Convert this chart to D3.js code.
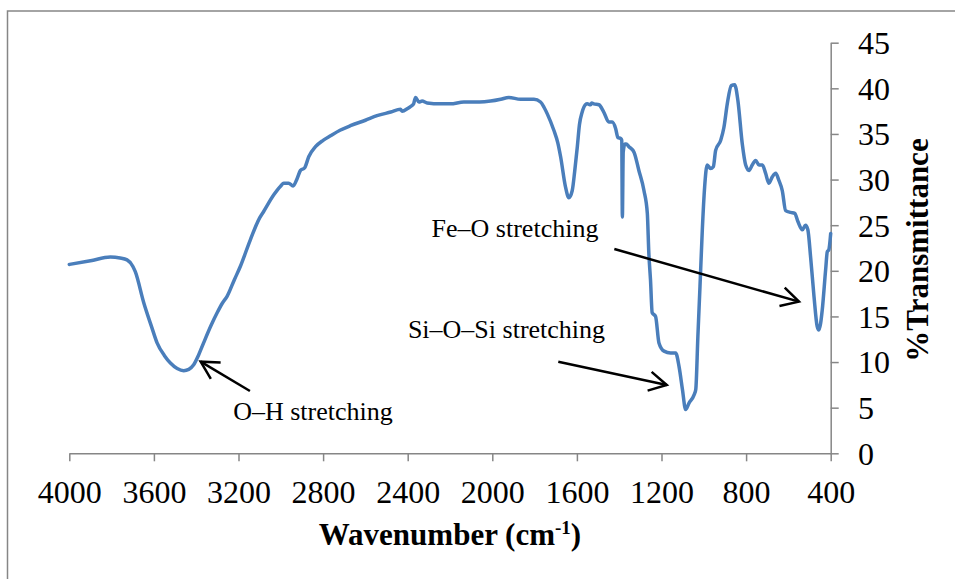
<!DOCTYPE html>
<html>
<head>
<meta charset="utf-8">
<script src="https://cdn.jsdelivr.net/npm/d3@7"></script>
<style>
  body { margin: 0; background: #fff; }
  svg { display: block; }
  text { font-family: "Liberation Serif", "Times New Roman", serif; fill: #000; }
</style>
</head>
<body>
<svg id="chart" width="955" height="579"></svg>
<script>
// FTIR spectrum: wavenumber (cm-1) and % transmittance
const wavenumber = [
  4000, 3900, 3806, 3760, 3727, 3700, 3688, 3648, 3610, 3585, 3550, 3522, 3490, 3459, 3435, 3412,
  3390, 3365, 3330, 3301, 3275, 3254, 3220, 3191, 3144, 3100, 3081, 3034, 3000, 2986, 2963, 2942,
  2923, 2907, 2887, 2868, 2836, 2800, 2765, 2720, 2671, 2600, 2545, 2480, 2434, 2426, 2400, 2387,
  2372, 2363, 2347, 2332, 2308, 2245, 2198, 2135, 2060, 2008, 1960, 1922, 1866, 1803, 1772, 1755,
  1740, 1709, 1690, 1677, 1654, 1638, 1622, 1610, 1598, 1588, 1575, 1560, 1551, 1535, 1530, 1520,
  1496, 1473, 1449, 1433, 1417, 1406, 1393, 1388, 1385, 1381, 1373, 1367, 1354, 1330, 1307, 1283,
  1267, 1260, 1252, 1244, 1228, 1212, 1188, 1157, 1133, 1117, 1101, 1086, 1070, 1046, 1038, 1028,
  1018, 1007, 996, 984, 968, 955, 944, 920, 905, 889, 870, 854, 839, 818, 802, 786,
  771, 755, 739, 723, 708, 692, 676, 660, 645, 629, 613, 589, 570, 555, 534, 519,
  508, 495, 479, 464, 456, 448, 440, 424, 416, 409, 400
];
const transmittance = [
  20.7, 21.1, 21.5, 21.4, 21.2, 20.5, 19.9, 16.5, 13.8, 12.1, 10.7, 9.9, 9.3, 9.06, 9.2, 9.7,
  10.7, 12.1, 14.0, 15.4, 16.5, 17.2, 19.0, 20.5, 23.4, 25.8, 26.5, 28.3, 29.3, 29.6, 29.6, 29.3,
  30.1, 31.0, 31.3, 32.5, 33.6, 34.3, 34.8, 35.4, 35.9, 36.5, 37.0, 37.4, 37.7, 37.5, 37.8, 38.0,
  38.3, 39.0, 38.5, 38.6, 38.4, 38.3, 38.3, 38.5, 38.5, 38.6, 38.8, 39.0, 38.8, 38.8, 38.5, 37.9,
  37.2, 35.4, 34.0, 32.5, 29.2, 28.0, 28.8, 31.0, 33.6, 36.0, 37.4, 38.2, 38.3, 38.2, 38.4, 38.3,
  38.2, 37.4, 36.3, 36.3, 35.6, 34.6, 34.5, 34.3, 25.9, 33.0, 33.9, 33.9, 33.6, 33.0, 31.0, 28.8,
  26.3, 22.0, 19.0, 15.4, 15.0, 12.1, 11.2, 11.0, 11.0, 9.5, 7.0, 4.8, 5.5, 6.4, 7.0, 12.8,
  18.3, 24.5, 29.2, 31.6, 31.2, 31.4, 33.2, 34.3, 35.7, 38.3, 40.3, 40.4, 38.7, 33.9, 31.6, 31.0,
  31.6, 32.1, 31.6, 31.6, 30.7, 29.6, 30.3, 30.7, 29.9, 28.8, 26.6, 26.4, 26.3, 25.4, 24.5, 25.0,
  24.5, 21.5, 17.2, 13.9, 13.5, 14.2, 15.7, 20.1, 22.1, 22.3, 24.1
];
const xTicks = [4000, 3600, 3200, 2800, 2400, 2000, 1600, 1200, 800, 400];
const yTicks = [0, 5, 10, 15, 20, 25, 30, 35, 40, 45];

// Band assignments: label anchor, arrow tail and arrow tip in (cm-1, %T)
const annotations = [
  { label: "O\u2013H stretching",      text: [3225, 3.65],  tail: [3146, 6.83],  tip: [3379, 10.04] },
  { label: "Si\u2013O\u2013Si stretching", text: [2399, 12.64], tail: [1688, 10.04], tip: [1175, 7.49] },
  { label: "Fe\u2013O stretching",      text: [2287, 23.74], tail: [1423, 22.39], tip: [550, 16.62] }
];

const svg = d3.select("#chart");
const axisColor = "#868686";

const x = d3.scaleLinear().domain([4000, 400]).range([69.3, 830.7]);
const y = d3.scaleLinear().domain([0, 45]).range([453.3, 42.7]);

// outer chart frame
svg.append("path")
  .attr("d", "M7.5,579V11H955")
  .attr("fill", "none")
  .attr("stroke", axisColor)
  .attr("stroke-width", 1.5);

// x axis
const gx = svg.append("g")
  .attr("transform", `translate(0,${y(0)})`)
  .call(d3.axisBottom(x).tickValues(xTicks).tickSize(8).tickSizeOuter(0).tickFormat(d3.format("d")));
gx.select(".domain").attr("stroke", axisColor).attr("stroke-width", 1.5);
gx.selectAll(".tick line").attr("stroke", axisColor).attr("stroke-width", 1.5);
gx.selectAll(".tick text")
  .attr("y", 49.7).attr("dy", 0)
  .style("font-family", '"Liberation Serif", "Times New Roman", serif')
  .style("font-size", "32px").attr("fill", "#000");

// y axis on the right
const gy = svg.append("g")
  .attr("transform", `translate(${x(400)},0)`)
  .call(d3.axisRight(y).tickValues(yTicks).tickSize(8).tickSizeOuter(0));
gy.select(".domain").attr("stroke", axisColor).attr("stroke-width", 1.5);
gy.selectAll(".tick line").attr("stroke", axisColor).attr("stroke-width", 1.5);
gy.selectAll(".tick text")
  .attr("x", 27.3).attr("dy", "0.34em")
  .attr("text-anchor", "start")
  .style("font-family", '"Liberation Serif", "Times New Roman", serif')
  .style("font-size", "32px").attr("fill", "#000");

// axis titles
const xTitle = svg.append("text")
  .attr("x", (x(4000) + x(400)) / 2)
  .attr("y", 545)
  .attr("text-anchor", "middle")
  .style("font-size", "31px")
  .style("font-weight", "bold");
xTitle.append("tspan").text("Wavenumber (cm");
xTitle.append("tspan").text("-1").style("font-size", "19px").attr("dy", -11);
xTitle.append("tspan").text(")").attr("dy", 11);

svg.append("text")
  .attr("transform", `translate(928,${(y(0) + y(45)) / 2 + 2}) rotate(-90)`)
  .attr("text-anchor", "middle")
  .style("font-size", "31px")
  .style("font-weight", "bold")
  .text("%Transmittance");

// spectrum trace
const points = wavenumber.map((w, i) => [w, transmittance[i]]);
const line = d3.line()
  .x(d => x(d[0]))
  .y(d => y(d[1]))
  .curve(d3.curveMonotoneX);

svg.append("path")
  .datum(points)
  .attr("d", line)
  .attr("fill", "none")
  .attr("stroke", "#4a7ebb")
  .attr("stroke-width", 3.5)
  .attr("stroke-linejoin", "round")
  .attr("stroke-linecap", "round");

// band labels with open-headed arrows
const ann = svg.append("g");
annotations.forEach(a => {
  ann.append("text")
    .attr("x", x(a.text[0]))
    .attr("y", y(a.text[1]))
    .style("font-size", "26px")
    .text(a.label);

  const x0 = x(a.tail[0]), y0 = y(a.tail[1]);
  const x1 = x(a.tip[0]), y1 = y(a.tip[1]);
  ann.append("line")
    .attr("x1", x0).attr("y1", y0).attr("x2", x1).attr("y2", y1)
    .attr("stroke", "#000").attr("stroke-width", 2.5);

  const ang = Math.atan2(y0 - y1, x0 - x1);
  const len = 20, spread = 0.5;
  const p1 = [x1 + len * Math.cos(ang + spread), y1 + len * Math.sin(ang + spread)];
  const p2 = [x1 + len * Math.cos(ang - spread), y1 + len * Math.sin(ang - spread)];
  ann.append("path")
    .attr("d", `M${p1[0]},${p1[1]}L${x1},${y1}L${p2[0]},${p2[1]}`)
    .attr("fill", "none")
    .attr("stroke", "#000")
    .attr("stroke-width", 2.5)
    .attr("stroke-linejoin", "miter");
});
</script>
</body>
</html>
